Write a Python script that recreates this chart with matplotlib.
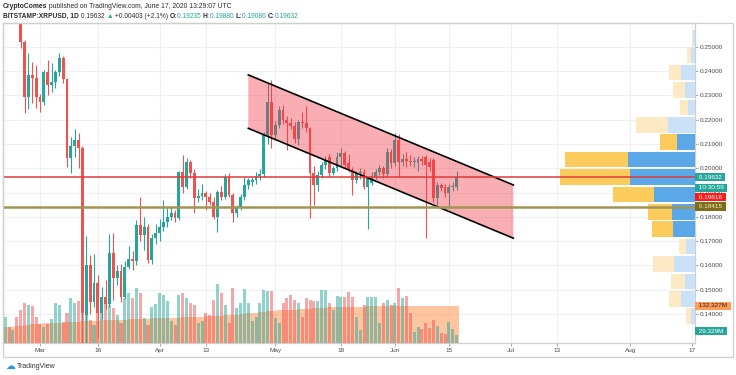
import matplotlib
matplotlib.use("Agg")
import matplotlib.pyplot as plt
import matplotlib.dates as mdates
from matplotlib.patches import Polygon, Rectangle
from matplotlib.ticker import FormatStrFormatter
import pandas as pd

plt.rcParams['font.family'] = ['Liberation Sans', 'DejaVu Sans']

W, H = 736, 375

# BITSTAMP:XRPUSD daily candles, Feb 21 - Jun 17 2020
dates = pd.date_range('2020-02-21', '2020-06-17', freq='D')

opens = [
    .275, .276, .274, .286, .264, .2521, .2292, .2384, .2370,
    .2292, .2271, .2395, .2342, .2356, .2397, .2452, .2366, .2041, .2091, .2116, .2082, .1395, .1602, .1451, .1526,
    .1403, .1471, .1440, .1651, .1550, .1575, .1471, .1595, .1626, .1620, .1766, .1725, .1759, .1622, .1712,
    .1735, .1757, .1780, .1800, .1815, .1794, .1986, .1924, .2027, .1981, .1876, .1887, .1897, .1883, .1862,
    .1800, .1903, .1883, .1965, .1890, .1817, .1842, .1883, .1931, .1944, .1952, .1968, .1978, .2136, .2274,
    .2137, .2178, .2240, .2198, .2187, .2174, .2120, .2191, .2185, .2164, .1979, .1931, .1972, .2013, .2047,
    .1979, .2000, .2047, .2061, .2020, .1993, .1951, .1979, .1986, .1924, .1940, .1965, .1985, .2000, .1975, .2068,
    .2020, .2116, .2025, .2036, .2030, .2025, .2022, .2036, .2047, .2025, .2034, .1876, .1931, .1924, .1899,
    .1921, .19235]
highs = [
    .281, .279, .288, .289, .266, .2528, .2475, .2438, .2425,
    .2305, .2404, .2445, .2432, .2405, .2473, .2463, .2370, .2130, .2160, .2144, .2090, .1721, .1643, .1647, .1560,
    .1512, .1540, .1730, .1733, .1600, .1605, .1620, .1680, .1660, .1785, .1883, .1800, .1770, .1730, .1770,
    .1790, .1869, .1840, .1840, .1830, .1990, .2054, .2040, .2032, .1995, .1915, .1935, .1905, .1900, .1880,
    .1910, .1925, .1975, .1980, .1900, .1850, .1895, .1965, .1960, .1962, .1985, .1995, .2150, .2349, .2363,
    .2195, .2255, .2260, .2215, .2205, .2190, .2200, .2230, .2255, .2170, .2010, .1990, .2025, .2050, .2060,
    .2010, .2065, .2085, .2070, .2060, .2005, .1990, .2000, .1995, .1965, .1985, .1995, .2015, .2010, .2085, .2080,
    .2144, .2140, .2060, .2065, .2055, .2045, .2050, .2050, .2055, .2040, .2040, .1945, .1940, .1935, .1935,
    .1945, .19880]
lows = [
    .268, .270, .272, .2605, .2495, .2228, .2242, .2268, .2248,
    .2233, .2260, .2301, .2315, .2330, .2380, .2350, .2006, .1979, .2047, .1999, .1150, .1200, .1400, .1430, .1300,
    .1380, .1420, .1430, .1458, .1520, .1450, .1460, .1585, .1580, .1600, .1700, .1663, .1610, .1605, .1690,
    .1700, .1740, .1760, .1785, .1780, .1785, .1900, .1915, .1960, .1814, .1860, .1870, .1830, .1850, .1790,
    .1739, .1870, .1875, .1880, .1780, .1800, .1830, .1870, .1915, .1925, .1935, .1950, .1965, .2100, .2082,
    .2115, .2165, .2180, .2075, .2160, .2105, .2095, .2165, .2150, .1794, .1849, .1905, .1960, .1995, .1965,
    .1970, .1990, .2010, .2000, .1985, .1890, .1940, .1955, .1915, .1750, .1930, .1955, .1970, .1960, .1965, .2000,
    .2010, .1965, .2010, .2005, .2010, .2005, .1990, .2015, .1712, .1990, .1860, .1850, .1905, .1880, .1842,
    .1905, .19086]
closes = [
    .276, .274, .286, .264, .2521, .2292, .2384, .2370, .2292,
    .2271, .2395, .2342, .2356, .2397, .2452, .2366, .2041, .2091, .2116, .2082, .1403, .1602, .1451, .1526, .1403,
    .1471, .1440, .1651, .1550, .1575, .1471, .1595, .1626, .1620, .1766, .1725, .1759, .1622, .1712, .1735,
    .1757, .1780, .1800, .1815, .1794, .1986, .1924, .2027, .1981, .1876, .1887, .1897, .1883, .1862, .1800,
    .1903, .1883, .1965, .1890, .1817, .1842, .1883, .1931, .1951, .1952, .1968, .1978, .2136, .2274, .2137,
    .2178, .2240, .2198, .2187, .2174, .2120, .2191, .2185, .2164, .1979, .1931, .1972, .2013, .2034, .1979,
    .2000, .2047, .2061, .2013, .1993, .1951, .1979, .1986, .1924, .1958, .1965, .1985, .2000, .1975, .2068, .2020,
    .2116, .2025, .2036, .2030, .2025, .2030, .2036, .2030, .2013, .2005, .1876, .1931, .1920, .1899, .1921,
    .1925, .19632]

# volume in millions XRP and its average (orange area)
volumes = [
    93, 57, 46, 93, 118, 143, 136, 132, 93,
    68, 57, 68, 86, 143, 136, 75, 107, 160, 143, 150, 186, 143, 82, 64, 107,
    164, 160, 136, 125, 100, 71, 160, 178, 160, 196, 178, 89, 64, 128, 139,
    178, 171, 150, 79, 64, 171, 178, 160, 143, 136, 71, 79, 107, 100, 154,
    210, 178, 136, 71, 196, 125, 143, 193, 143, 79, 93, 143, 189, 186, 186,
    89, 71, 143, 160, 171, 154, 143, 93, 160, 154, 150, 150, 189, 189, 143,
    118, 168, 164, 164, 182, 164, 93, 46, 136, 164, 164, 164, 71, 143, 154, 136,
    143, 196, 160, 168, 107, 39, 57, 50, 71, 54, 82, 61, 36, 32, 75,
    50, 29.329]
vol_avg = [
    57, 58, 58, 60, 62, 64, 66, 67, 68,
    69, 70, 70, 71, 72, 73, 73, 74, 75, 76, 76, 78, 79, 79, 79, 80,
    81, 81, 82, 82, 82, 83, 84, 85, 86, 86, 86, 87, 87, 88, 88,
    89, 90, 90, 90, 90, 91, 92, 93, 93, 94, 94, 94, 95, 95, 96,
    97, 98, 99, 99, 100, 101, 102, 104, 106, 107, 108, 110, 112, 113, 114,
    116, 117, 118, 118, 119, 119, 120, 121, 122, 123, 124, 125, 126, 126, 127,
    127, 128, 128, 129, 129, 130, 130, 130, 130, 131, 131, 131, 131, 131, 132, 132,
    132, 132, 132, 132, 132, 132, 132, 132, 132, 132, 132, 132, 132, 132, 132,
    132, 132.327]

tick_dates = ['2020-03-01', '2020-03-16', '2020-04-01', '2020-04-13', '2020-05-01', '2020-05-18',
              '2020-06-01', '2020-06-15', '2020-07-01', '2020-07-13', '2020-08-01', '2020-08-17']
tick_labels = ['Mar', '16', 'Apr', '13', 'May', '18', 'Jun', '15', 'Jul', '13', 'Aug', '17']
price_ticks = [0.14, 0.15, 0.16, 0.17, 0.18, 0.19, 0.20, 0.21, 0.22, 0.23, 0.24, 0.25]

# drawings on the chart
channel_dates = ['2020-04-24 00:00', '2020-07-01 17:00']
channel_upper = [0.2384, 0.1931]
channel_lower = [0.2164, 0.1712]
line_red = 0.19618
line_olive = 0.18415
last_price = 0.19632

# volume profile (rows, millions): up = blue, down = yellow
vp_prices = [0.13908, 0.14624, 0.15340, 0.16056, 0.16772, 0.17488, 0.18204, 0.18920, 0.19636,
             0.20352, 0.21068, 0.21784, 0.22500, 0.23216, 0.23932, 0.24648, 0.25364]
vp_up = [86, 272, 206, 420, 186, 434, 454, 814, 1300, 1340, 366, 540, 132, 206, 286, 86, 40]
vp_down = [100, 248, 266, 420, 134, 420, 480, 832, 1400, 1266, 340, 632, 168, 226, 234, 66, 26]
vp_in_value_area = [0, 0, 0, 0, 0, 1, 1, 1, 1, 1, 1, 0, 0, 0, 0, 0, 0]

UP, DOWN = '#26a69a', '#ef5350'

fig = plt.figure(figsize=(W / 100, H / 100), dpi=100)
ax = fig.add_axes([3 / W, 1 - 343 / H, 692 / W, 320 / H])
axv = ax.twinx()   # volume pane
axp = ax.twiny()   # volume profile on the price scale

x = mdates.date2num(dates)
colors = [UP if c >= o else DOWN for o, c in zip(opens, closes)]
body_lo = [min(o, c) for o, c in zip(opens, closes)]
body_h = [max(abs(c - o), 0.00035) for o, c in zip(opens, closes)]

ax.vlines(x, lows, highs, colors=colors, linewidth=0.8, zorder=3)
ax.bar(x, body_h, bottom=body_lo, width=0.76, color=colors, linewidth=0, zorder=3)

# falling channel
cx = mdates.date2num(pd.to_datetime(channel_dates, format='%Y-%m-%d %H:%M'))
ax.add_patch(Polygon([(cx[0], channel_upper[0]), (cx[1], channel_upper[1]),
                      (cx[1], channel_lower[1]), (cx[0], channel_lower[0])],
                     closed=True, facecolor='#f23645', alpha=0.4, edgecolor='none', zorder=4))
ax.plot(cx, channel_upper, color='black', lw=1.2, zorder=5)
ax.plot(cx, channel_lower, color='black', lw=1.2, zorder=5)

d0 = mdates.date2num(pd.Timestamp('2020-03-01'))
ax.set_xlim(d0 - 9.59, d0 + 169.8)
ax.set_ylim(0.12807, 0.25975)
ax.set_xticks(mdates.date2num(pd.to_datetime(tick_dates)))
ax.set_xticklabels(tick_labels)
ax.set_yticks(price_ticks)
ax.yaxis.tick_right()
ax.yaxis.set_major_formatter(FormatStrFormatter('%.5f'))
ax.grid(True, color='#eef0f4', lw=0.8)
ax.set_axisbelow(True)
ax.tick_params(axis='y', length=1.8, width=0.6, color='#999999', labelsize=4.6,
               labelcolor='#4a4a4a', pad=1.5)
ax.tick_params(axis='x', length=1.8, width=0.6, color='#999999', labelsize=4.6,
               labelcolor='#4a4a4a', pad=1.8)
for s in ax.spines.values():
    s.set_color('#cfcfcf')
    s.set_linewidth(0.9)

axv.set_ylim(0, 1144)
axv.bar(x, vol_avg, width=1.0, color='#ff8c42', alpha=0.5, linewidth=0, zorder=1)
axv.bar(x, volumes, width=0.78, color=colors, alpha=0.5, linewidth=0, zorder=2)
axv.axis('off')

axp.set_xlim(692 * 20, 0)
step = vp_prices[1] - vp_prices[0]
up_c = ['#5ba8e8' if v else '#c9e2f7' for v in vp_in_value_area]
dn_c = ['#fbcb5c' if v else '#fde9c3' for v in vp_in_value_area]
axp.barh(vp_prices, vp_up, height=step * 0.9, left=0, color=up_c, linewidth=0)
axp.barh(vp_prices, vp_down, height=step * 0.9, left=vp_up, color=dn_c, linewidth=0)
axp.axhline(line_red, color='#e03a3a', lw=1.1, zorder=6)
axp.axhline(line_olive, color='#a39452', lw=1.8, zorder=6)
axp.axis('off')


def tag(axis, yval, text, bg, fg, dy=0):
    axis.annotate(' ' + text + ' ', xy=(1, yval), xycoords=('axes fraction', 'data'),
                  xytext=(1.5, dy), textcoords='offset points', ha='left', va='center',
                  fontsize=4.6, color=fg, annotation_clip=False, zorder=10,
                  bbox=dict(boxstyle='square,pad=0.27', fc=bg, ec='none'))


tag(axp, last_price, f'{last_price:.5f}', UP, 'white')
tag(axp, last_price, '10:30:59', UP, 'white', dy=-7.7)
tag(axp, line_red, f'{line_red:.5f}', '#ff1a1a', 'white', dy=-14.2)
tag(axp, line_olive, f'{line_olive:.5f}', '#7f6d1c', '#f3ecc8')
tag(axv, vol_avg[-1], f'{vol_avg[-1]:.3f}M', '#ff9a57', '#222222')
tag(axv, volumes[-1], f'{volumes[-1]:.3f}M', UP, 'white', dy=2.6)

# outer chart frame
fig.patches.append(Rectangle((3 / W, 1 - 357 / H), 730 / W, 334 / H, transform=fig.transFigure,
                             fill=False, ec='#cfcfcf', lw=0.9))

# header lines
renderer = fig.canvas.get_renderer()


def put_line(pieces, x0, y0, size):
    xx = x0
    for s, kw in pieces:
        t = fig.text(xx / W, 1 - y0 / H, s, va='center', ha='left', fontsize=size, **kw)
        xx += t.get_window_extent(renderer=renderer).width


dark = '#2a2a2a'
put_line([('CryptoComes', dict(color=dark, weight='bold')),
          (' published on TradingView.com, June 17, 2020 13:29:07 UTC', dict(color=dark))], 3, 6, 4.9)
put_line([('BITSTAMP:XRPUSD, 1D', dict(color=dark, weight='bold')),
          (' 0.19632 ', dict(color=dark)),
          ('▲', dict(color=UP)),
          (' +0.00403 (+2.1%) ', dict(color=dark)),
          ('O:', dict(color=dark, weight='bold')), ('0.19235 ', dict(color=UP)),
          ('H:', dict(color=dark, weight='bold')), ('0.19880 ', dict(color=UP)),
          ('L:', dict(color=dark, weight='bold')), ('0.19086 ', dict(color=UP)),
          ('C:', dict(color=dark, weight='bold')), ('0.19632', dict(color=UP))], 3, 16, 4.8)

# footer logo
fig.text(10 / W, 1 - 366 / H, '☁', color='#2196f3', fontsize=7, ha='center', va='center',
         family='DejaVu Sans')
fig.text(17 / W, 1 - 366 / H, 'TradingView', color='#333333', fontsize=5, va='center')

fig.savefig('out.png', dpi=100)
